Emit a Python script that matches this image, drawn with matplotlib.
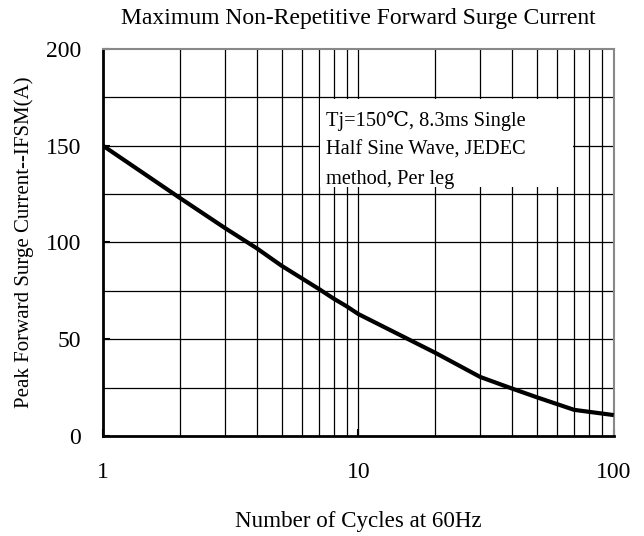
import matplotlib
matplotlib.use("Agg")
import matplotlib.pyplot as plt
from matplotlib.patches import Rectangle

plt.rcParams['font.family'] = ['Liberation Serif', 'DejaVu Serif', 'Noto Sans CJK SC']

# curve
cycles = [1, 2, 3, 4, 5, 6, 7, 8, 9, 10, 20, 30, 40, 50, 70, 100]
ifsm = [150, 123, 107.5, 97, 88, 81.5, 76, 71, 67, 63, 43, 30.5, 24.5, 20, 13.5, 10.8]

xticks = [1, 10, 100]
yticks = [0, 50, 100, 150, 200]
ygrid = [25, 50, 75, 100, 125, 150, 175]
xgrid = [2, 3, 4, 5, 6, 7, 8, 9, 10, 20, 30, 40, 50, 60, 70, 80, 90]

note = "Tj=150\u2103, 8.3ms Single\nHalf Sine Wave, JEDEC\nmethod, Per leg"

fig = plt.figure(figsize=(6.44, 5.36), dpi=100)
ax = fig.add_axes([0.16, 0.1866, 0.793, 0.722])

ax.set_xscale('log')
ax.set_xlim(1, 100)
ax.set_ylim(0, 200)

for g in xgrid:
    ax.axvline(g, color='black', lw=0.9, zorder=1)
for g in ygrid:
    ax.axhline(g, color='black', lw=0.9, zorder=1)

# white box behind the note
ax.add_patch(Rectangle((7.05, 128.7), 69.4 - 7.05, 174.4 - 128.7,
                       facecolor='white', edgecolor='none', zorder=2))
ax.text(7.5, 148, note, fontsize=14.7, va='center', ha='left',
        linespacing=1.72, zorder=3)

ax.plot(cycles, ifsm, color='black', lw=3, zorder=4, solid_capstyle='butt')

ax.set_xticks(xticks)
ax.set_xticklabels(['1', '10', '100'])
ax.set_xticks([], minor=True)
ax.set_yticks(yticks)
ax.tick_params(direction='in', length=5, width=1.5, labelsize=17, pad=15)
ax.tick_params(axis='x', pad=19)
ax.tick_params(axis='y', pad=16)

for s in ['left', 'bottom']:
    ax.spines[s].set_linewidth(2)
    ax.spines[s].set_color('black')
for s in ['top', 'right']:
    ax.spines[s].set_linewidth(1.5)
    ax.spines[s].set_color('#888888')

ax.set_title("Maximum Non-Repetitive Forward Surge Current", fontsize=17, pad=18)
ax.set_xlabel("Number of Cycles at 60Hz", fontsize=16.6, labelpad=20)
ax.set_ylabel("Peak Forward Surge Current--IFSM(A)", fontsize=15, labelpad=8)

plt.savefig('out.png')
